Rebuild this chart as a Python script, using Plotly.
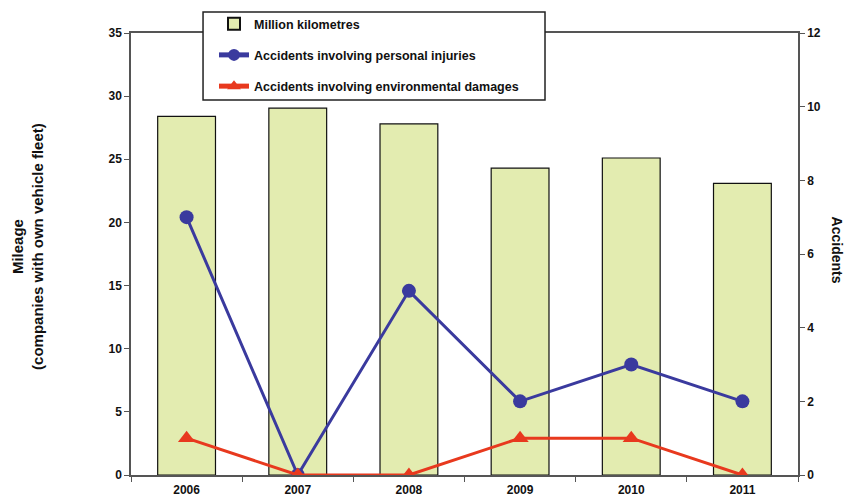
import plotly.graph_objects as go

years = ["2006", "2007", "2008", "2009", "2010", "2011"]
million_km = [28.4, 29.05, 27.8, 24.3, 25.1, 23.1]
injuries = [7, 0, 5, 2, 3, 2]
env_damages = [1, 0, 0, 1, 1, 0]

FONT = "Liberation Sans, Arial, sans-serif"
AXC = "#555555"
TXT = "#111111"

fig = go.Figure()
fig.add_trace(go.Bar(
    x=years, y=million_km, name="<b>Million kilometres</b>",
    marker=dict(color="#e3ecb0", line=dict(color="#111111", width=1.2)),
    legendgroup="a", yaxis="y",
))
fig.add_trace(go.Scatter(
    x=years, y=injuries, name="<b>Accidents involving personal injuries</b>",
    mode="lines+markers", yaxis="y2", legendgroup="b",
    line=dict(color="#3a3a9e", width=3),
    marker=dict(symbol="circle", size=14, color="#3a3a9e"),
))
fig.add_trace(go.Scatter(
    x=years, y=env_damages, name="<b>Accidents involving environmental damages</b>",
    mode="lines+markers", yaxis="y2", legendgroup="c",
    line=dict(color="#e8391e", width=3),
    marker=dict(symbol="triangle-up", size=15, color="#e8391e"),
))

fig.update_layout(
    width=849, height=499,
    margin=dict(l=131, r=51, t=33, b=24, autoexpand=False),
    paper_bgcolor="white", plot_bgcolor="white",
    font=dict(family=FONT, size=12, color=TXT),
    bargap=0.48,
    showlegend=True,
    legend=dict(
        xref="container", yref="container",
        x=214 / 849, y=1 - 9 / 499, xanchor="left", yanchor="top",
        bgcolor="rgba(0,0,0,0)", borderwidth=0,
        font=dict(family=FONT, size=12.5, color=TXT),
        tracegroupgap=12, traceorder="grouped", itemsizing="constant",
    ),
    xaxis=dict(
        type="category", showline=True, linecolor=AXC, linewidth=1.5, mirror=True,
        ticks="outside", tickson="boundaries", ticklen=5, tickcolor=AXC,
        tickfont=dict(family=FONT, size=12, color=TXT),
        tickprefix="<b>", ticksuffix="</b>", showgrid=False, automargin=False,
        ticklabelstandoff=3,
    ),
    yaxis=dict(
        range=[0, 35], dtick=5, showline=True, linecolor=AXC, linewidth=1.5,
        ticks="outside", ticklen=5, tickcolor=AXC, showgrid=False, zeroline=False,
        tickfont=dict(family=FONT, size=12, color=TXT), automargin=False,
        tickprefix="<b>", ticksuffix="</b>",
    ),
    yaxis2=dict(
        range=[0, 12], dtick=2, overlaying="y", side="right",
        showline=True, linecolor=AXC, linewidth=1.5,
        ticks="outside", ticklen=5, tickcolor=AXC, showgrid=False, zeroline=False,
        tickfont=dict(family=FONT, size=12, color=TXT), automargin=False,
        tickprefix="<b>", ticksuffix="</b>",
    ),
    shapes=[dict(
        type="rect", xref="paper", yref="paper",
        x0=0.108, x1=0.6207, y0=0.8484, y1=1.0475,
        fillcolor="white", line=dict(color="#222222", width=1.5), layer="above",
    )],
    annotations=[
        dict(
            text="<b>Accidents</b>", textangle=90, xref="paper", yref="paper",
            x=1.0585, y=0.51, xanchor="center", yanchor="middle", showarrow=False,
            font=dict(family=FONT, size=14, color=TXT),
        ),
        dict(
            text="<b>Mileage<br>(companies with own vehicle fleet)</b>", textangle=-90,
            xref="paper", yref="paper", x=-0.1544, y=0.516,
            xanchor="center", yanchor="middle", showarrow=False,
            font=dict(family=FONT, size=15, color=TXT),
        ),
    ],
)

fig.write_html("out.html")
